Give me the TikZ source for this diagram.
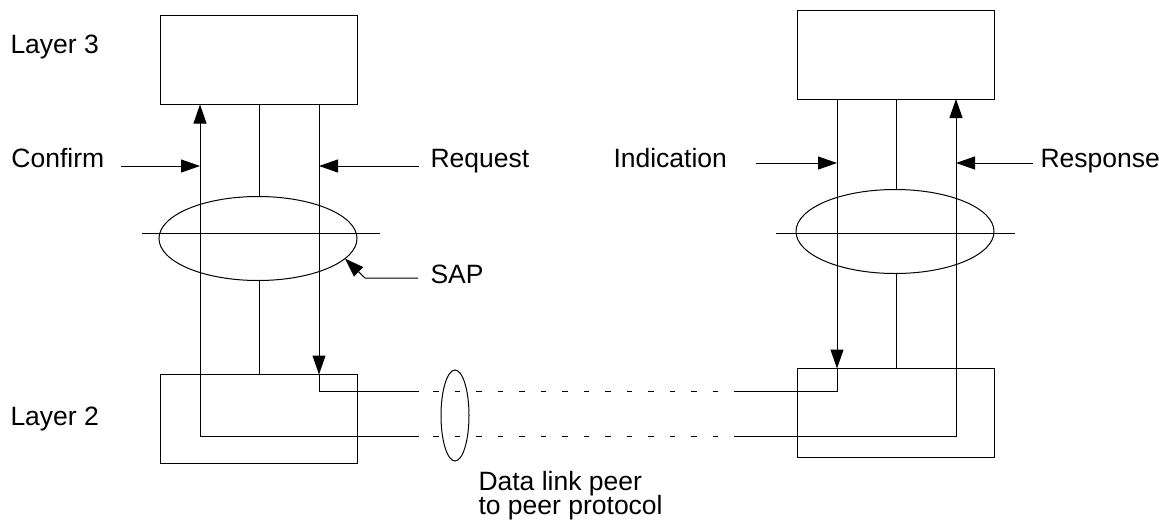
\documentclass[tikz,border=0pt]{standalone}
\usepackage{fontspec}
\setmainfont{Liberation Sans}
\usetikzlibrary{shapes.geometric, positioning, arrows.meta, calc}

\tikzset{
	box/.style={draw, rectangle, minimum width=197pt, minimum height=89pt, inner sep=0pt, outer sep=0pt},
	sap/.style={draw, ellipse, minimum width=198pt, minimum height=84pt, inner sep=0pt, outer sep=0pt},
	lbl/.style={inner sep=0pt, anchor=base west, font=\fontsize{26.5}{26.5}\selectfont},
	arr/.style={-{Triangle[length=19pt, width=13pt]}},
	peer/.style={dash pattern=on 5.5pt off 16pt, dash phase=7.5pt}
}

\begin{document}
\begin{tikzpicture}[x=1pt, y=-1pt, line width=1pt]
		\useasboundingbox (0,0) rectangle (1159,520);
		% layer boxes
		\node[box] (l3L) at (259,60) {};
		\node[box] (l2L) at (259,419) {};
		\node[box] (l3R) at (896,54.5) {};
		\node[box] (l2R) at (896,413) {};
		% service access points
		\node[sap] (sapL) at (258,238.5) {};
		\node[sap] (sapR) at (895,231.5) {};
		\draw (142,233) -- (380,233);
		\draw (776,233) -- (1015,233);
		\node[draw, ellipse, minimum width=28pt, minimum height=91pt, inner sep=0pt] (peerE) at (455,415.5) {};
		% labels
		\node[lbl] (lay3) at (10,53) {Layer 3};
		\node[lbl] (lay2) at (10,425) {Layer 2};
		\node[lbl] (cnf) at (11,167) {Confirm};
		\node[lbl] (req) at (430,167) {Request};
		\node[lbl] (ind) at (613,167) {Indication};
		\node[lbl] (rsp) at (1040,167) {Response};
		\node[lbl] (sapT) at (430,283) {SAP};
		\node[lbl] (dl1) at (478,490) {Data link peer};
		\node[lbl] (dl2) at (478,514) {to peer protocol};
		% corners of the primitive paths
		\coordinate (cfL) at (200,436);
		\coordinate (rqL) at (319,391);
		\coordinate (inR) at (837,391);
		\coordinate (rsR) at (956,436);
		\coordinate (pL1) at (419,391);
		\coordinate (pL2) at (419,436);
		\coordinate (pR1) at (735,391);
		\coordinate (pR2) at (735,436);
		\coordinate (cnfA) at (121,166);
		\coordinate (reqA) at (419,166);
		\coordinate (indA) at (756,163);
		\coordinate (rspA) at (1033,163);
		\coordinate (sapA) at (418,278);
		\coordinate (sapB) at (365,278);
		% primitives
		\draw[arr] (pL2) -- (cfL) -- (cfL |- l3L.south);
		\draw[arr] (l3L.south -| rqL) -- (l2L.north -| rqL);
		\draw (l2L.north -| rqL) -- (rqL) -- (pL1);
		\draw[arr] (l3R.south -| inR) -- (l2R.north -| inR);
		\draw (l2R.north -| inR) -- (inR) -- (pR1);
		\draw[arr] (pR2) -- (rsR) -- (rsR |- l3R.south);
		\draw (l3L.south) -- (l3L.south |- sapL.north);
		\draw (l2L.north |- sapL.south) -- (l2L.north);
		\draw (l3R.south) -- (l3R.south |- sapR.north);
		\draw (l2R.north |- sapR.south) -- (l2R.north);
		\draw[arr] (cnfA) -- (cnfA -| cfL);
		\draw[arr] (reqA) -- (reqA -| rqL);
		\draw[arr] (indA) -- (indA -| inR);
		\draw[arr] (rspA) -- (rspA -| rsR);
		\draw[arr] (sapA) -- (sapB) -- (sapL.-13);
		\foreach \i in {1,2} {
			\draw[peer] (pL\i) -- (pR\i);
		}
	\end{tikzpicture}
\end{document}
